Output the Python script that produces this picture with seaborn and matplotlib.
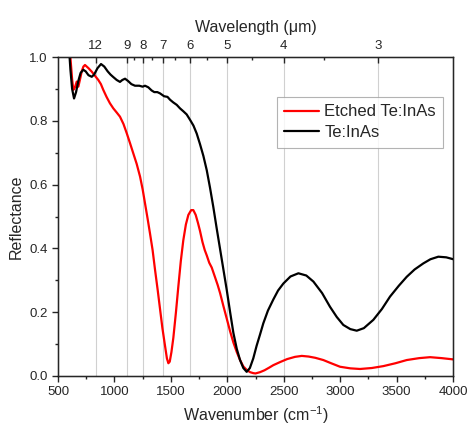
import matplotlib
matplotlib.use("Agg")
import matplotlib.pyplot as plt
import pandas as pd
import seaborn as sns

# values
wn_bare = [597, 610, 625, 642, 660, 680, 700, 724, 745, 770, 799, 820, 850, 881,
           910, 940, 965, 987, 1020, 1049, 1070, 1094, 1120, 1150, 1182, 1220,
           1250, 1271, 1300, 1330, 1353, 1380, 1404, 1440, 1470, 1493, 1520,
           1552, 1581, 1610, 1640, 1670, 1700, 1729, 1758, 1788, 1818, 1847,
           1876, 1905, 1935, 1965, 1995, 2025, 2054, 2084, 2113, 2142, 2172,
           2200, 2230, 2260, 2290, 2319, 2360, 2408, 2450, 2497, 2560, 2630,
           2700, 2763, 2840, 2910, 2970, 3028, 3090, 3147, 3210, 3294, 3370,
           3442, 3520, 3590, 3660, 3737, 3800, 3870, 3940, 4003]
r_bare = [1.03, 0.96, 0.9, 0.87, 0.89, 0.925, 0.95, 0.96, 0.955, 0.943, 0.938,
          0.945, 0.965, 0.978, 0.97, 0.955, 0.945, 0.938, 0.928, 0.922, 0.928,
          0.932, 0.925, 0.915, 0.91, 0.91, 0.907, 0.91, 0.905, 0.895, 0.89,
          0.89, 0.886, 0.877, 0.875, 0.866, 0.858, 0.85, 0.839, 0.83, 0.82,
          0.803, 0.785, 0.76, 0.727, 0.69, 0.645, 0.59, 0.53, 0.465, 0.4, 0.335,
          0.27, 0.2, 0.135, 0.085, 0.05, 0.025, 0.013, 0.025, 0.055, 0.095,
          0.13, 0.165, 0.205, 0.24, 0.268, 0.29, 0.312, 0.322, 0.315, 0.296,
          0.26, 0.217, 0.185, 0.16, 0.147, 0.142, 0.15, 0.176, 0.21, 0.249,
          0.283, 0.311, 0.334, 0.353, 0.366, 0.374, 0.372, 0.366]

wn_etch = [605, 625, 636, 650, 666, 680, 695, 710, 725, 739, 770, 799, 830, 857,
           880, 901, 930, 960, 990, 1020, 1049, 1080, 1109, 1138, 1167, 1197,
           1227, 1250, 1271, 1293, 1315, 1338, 1360, 1383, 1404, 1425, 1448,
           1465, 1478, 1490, 1505, 1522, 1545, 1566, 1588, 1610, 1633, 1655,
           1680, 1699, 1720, 1740, 1758, 1780, 1800, 1818, 1840, 1862, 1891,
           1915, 1936, 1965, 1995, 2025, 2054, 2084, 2113, 2142, 2172, 2202,
           2230, 2250, 2290, 2330, 2370, 2408, 2470, 2530, 2600, 2660, 2720,
           2780, 2851, 2920, 2999, 3090, 3176, 3280, 3383, 3490, 3590, 3700,
           3797, 3900, 4003]
r_etch = [1.02, 0.93, 0.897, 0.905, 0.923, 0.907, 0.93, 0.955, 0.97, 0.975,
          0.965, 0.954, 0.94, 0.928, 0.915, 0.897, 0.875, 0.855, 0.839, 0.826,
          0.813, 0.79, 0.761, 0.73, 0.698, 0.665, 0.625, 0.585, 0.541, 0.495,
          0.447, 0.395, 0.332, 0.27, 0.21, 0.15, 0.095, 0.055, 0.04, 0.045,
          0.075, 0.12, 0.2, 0.28, 0.36, 0.425, 0.475, 0.505, 0.52, 0.52, 0.505,
          0.48, 0.455, 0.42, 0.395, 0.378, 0.355, 0.34, 0.31, 0.285, 0.26,
          0.22, 0.18, 0.14, 0.105, 0.075, 0.05, 0.03, 0.019, 0.012, 0.009,
          0.008, 0.012, 0.018, 0.026, 0.034, 0.044, 0.053, 0.06, 0.063, 0.061,
          0.057, 0.05, 0.04, 0.029, 0.024, 0.022, 0.025, 0.031, 0.04, 0.05,
          0.056, 0.059, 0.056, 0.052]

wavelengths = [12, 9, 8, 7, 6, 5, 4, 3]
wavelengths_minor = [8.5, 7.5, 6.5, 5.5, 4.5, 3.5]

df = pd.concat([
    pd.DataFrame({"wn": wn_etch, "R": r_etch, "sample": "Etched Te:InAs"}),
    pd.DataFrame({"wn": wn_bare, "R": r_bare, "sample": "Te:InAs"}),
])

sns.set_style("ticks")
plt.rcParams["font.family"] = ["Liberation Sans", "DejaVu Sans"]
plt.rcParams["mathtext.fontset"] = "custom"
plt.rcParams["mathtext.rm"] = "Liberation Sans"
plt.rcParams["mathtext.it"] = "Liberation Sans"

fig = plt.figure(figsize=(4.69, 4.28), dpi=100)
ax = fig.add_axes([0.1237, 0.1215, 0.8422, 0.7453])

# grid lines at the wavelength ticks
for lam in wavelengths:
    ax.axvline(10000 / lam, color="#d0d0d0", lw=0.8, zorder=0)

sns.lineplot(data=df, x="wn", y="R", hue="sample", sort=False,
             palette={"Etched Te:InAs": "#ff0000", "Te:InAs": "black"},
             linewidth=1.6, ax=ax)

ax.set_xlim(500, 4000)
ax.set_ylim(0, 1.0)
ax.set_xticks(range(500, 4001, 500))
ax.set_xticks(range(750, 4000, 500), minor=True)
ax.set_yticks([0, 0.2, 0.4, 0.6, 0.8, 1.0])
ax.set_yticks([0.1, 0.3, 0.5, 0.7, 0.9], minor=True)
ax.yaxis.set_major_formatter(matplotlib.ticker.FormatStrFormatter("%.1f"))
ax.tick_params(which="major", direction="out", length=4, width=1, labelsize=9.5)
ax.tick_params(which="minor", direction="out", length=2.5, width=1)
ax.set_xlabel("Wavenumber (cm$^{-1}$)", fontsize=11.5)
ax.set_ylabel("Reflectance", fontsize=11.5)
for s in ax.spines.values():
    s.set_linewidth(1.0)
    s.set_color("black")

leg = ax.legend(loc="upper left", bbox_to_anchor=(0.554, 0.875), fontsize=12,
                frameon=True, fancybox=False, handlelength=2.1,
                borderpad=0.45, labelspacing=0.35, handletextpad=0.3,
                borderaxespad=0)
leg.get_frame().set_edgecolor("#a0a0a0")
leg.get_frame().set_linewidth(0.8)

# top axis in wavelength
ax2 = ax.twiny()
ax2.set_xlim(ax.get_xlim())
ax2.set_xticks([10000 / l for l in wavelengths])
ax2.set_xticklabels([str(l) for l in wavelengths])
ax2.set_xticks([10000 / l for l in wavelengths_minor], minor=True)
ax2.tick_params(which="major", direction="in", length=4, width=1, labelsize=9.5)
ax2.tick_params(which="minor", direction="in", length=2.5, width=1)
ax2.set_xlabel("Wavelength (μm)", fontsize=11.5, labelpad=6)

fig.savefig("out.png", dpi=100)
